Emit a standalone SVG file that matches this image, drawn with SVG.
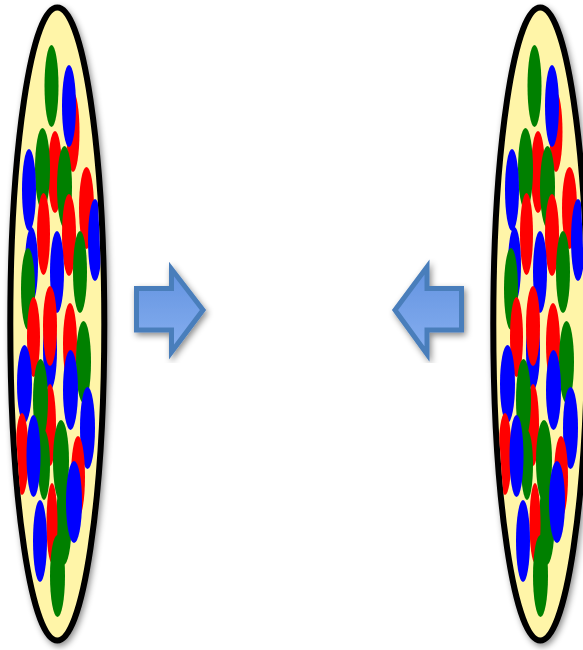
<svg xmlns="http://www.w3.org/2000/svg" xmlns:xlink="http://www.w3.org/1999/xlink" width="583" height="650" viewBox="0 0 583 650">
  <style>
    .r { fill: #ff0000; }
    .g { fill: #008000; }
    .b { fill: #0000ff; }
    .disk { fill: #fff5a8; stroke: #000; stroke-width: 6; }
    .arrow { fill: url(#arrowFill); stroke: #4a7ebb; stroke-width: 5; stroke-linejoin: miter; }
  </style>
  <defs>
    <filter id="shadow" x="-30%" y="-10%" width="160%" height="120%">
      <feDropShadow dx="2" dy="3" stdDeviation="3" flood-color="#000" flood-opacity="0.45"/>
    </filter>
    <linearGradient id="arrowFill" x1="0" y1="0" x2="0" y2="1">
      <stop offset="0" stop-color="#6393e0"/>
      <stop offset="1" stop-color="#86aff0"/>
    </linearGradient>
    <clipPath id="inner">
      <ellipse cx="57.3" cy="324" rx="44" ry="313.5"/>
    </clipPath>
    <!-- colour-charged partons packed inside a beam disk -->
    <g id="partons" clip-path="url(#inner)">
      <ellipse class="g" cx="51.5" cy="86" rx="7" ry="41"/>
      <ellipse class="r" cx="73" cy="132" rx="6.5" ry="40"/>
      <ellipse class="b" cx="69" cy="106" rx="7" ry="41"/>
      <ellipse class="r" cx="55" cy="172" rx="7" ry="41"/>
      <ellipse class="g" cx="42.5" cy="169" rx="7.5" ry="41"/>
      <ellipse class="g" cx="64.5" cy="187" rx="7.5" ry="41"/>
      <ellipse class="b" cx="29" cy="190" rx="7" ry="41"/>
      <ellipse class="r" cx="86.5" cy="208" rx="7.5" ry="41"/>
      <ellipse class="b" cx="95" cy="240" rx="7" ry="41"/>
      <ellipse class="r" cx="43.5" cy="234" rx="6.5" ry="41"/>
      <ellipse class="r" cx="69" cy="235" rx="7" ry="41"/>
      <ellipse class="b" cx="31.5" cy="265" rx="6.5" ry="38"/>
      <ellipse class="b" cx="57" cy="272" rx="7" ry="41"/>
      <ellipse class="g" cx="28" cy="289" rx="7" ry="41"/>
      <ellipse class="g" cx="80" cy="272" rx="7" ry="41"/>
      <ellipse class="r" cx="33.5" cy="337" rx="6.5" ry="40"/>
      <ellipse class="b" cx="50" cy="350" rx="7" ry="40"/>
      <ellipse class="r" cx="50" cy="326" rx="7" ry="40"/>
      <ellipse class="r" cx="70" cy="344" rx="7" ry="41"/>
      <ellipse class="g" cx="83.5" cy="362" rx="7.5" ry="41"/>
      <ellipse class="b" cx="24.5" cy="384" rx="7.5" ry="39"/>
      <ellipse class="r" cx="50" cy="425" rx="6" ry="41"/>
      <ellipse class="g" cx="40.5" cy="400" rx="7.5" ry="41"/>
      <ellipse class="b" cx="70.5" cy="390" rx="7.5" ry="40"/>
      <ellipse class="b" cx="87.5" cy="428" rx="7.5" ry="41"/>
      <ellipse class="g" cx="44" cy="465" rx="6" ry="35"/>
      <ellipse class="r" cx="22" cy="454" rx="6.5" ry="41"/>
      <ellipse class="b" cx="33.5" cy="456" rx="7" ry="41"/>
      <ellipse class="g" cx="61" cy="461" rx="8" ry="41"/>
      <ellipse class="g" cx="63.5" cy="524" rx="8" ry="41"/>
      <ellipse class="r" cx="78" cy="477" rx="7" ry="41"/>
      <ellipse class="b" cx="74" cy="502" rx="8" ry="41"/>
      <ellipse class="r" cx="52" cy="523" rx="5.5" ry="40"/>
      <ellipse class="b" cx="40" cy="541" rx="7" ry="41"/>
      <ellipse class="g" cx="57.5" cy="576" rx="7.5" ry="41"/>
    </g>
  </defs>

  <!-- left beam disk -->
  <g id="disk-left">
    <ellipse class="disk" cx="57.3" cy="324" rx="47" ry="316.5" filter="url(#shadow)"/>
    <use xlink:href="#partons" href="#partons"/>
  </g>

  <!-- right beam disk -->
  <g id="disk-right" transform="translate(483 0)">
    <ellipse class="disk" cx="57.3" cy="324" rx="47" ry="316.5" filter="url(#shadow)"/>
    <use xlink:href="#partons" href="#partons"/>
  </g>

  <!-- arrows showing the disks moving toward each other -->
  <g id="connectors" filter="url(#shadow)">
    <polygon id="arrow-right" class="arrow" points="136.5,288.5 171.5,288.5 171.5,269 203,310 171.5,352 171.5,330 136.5,330"/>
    <polygon id="arrow-left" class="arrow" points="461.5,288.5 427,288.5 427,267 395,310 427,354 427,330 461.5,330"/>
  </g>
</svg>
